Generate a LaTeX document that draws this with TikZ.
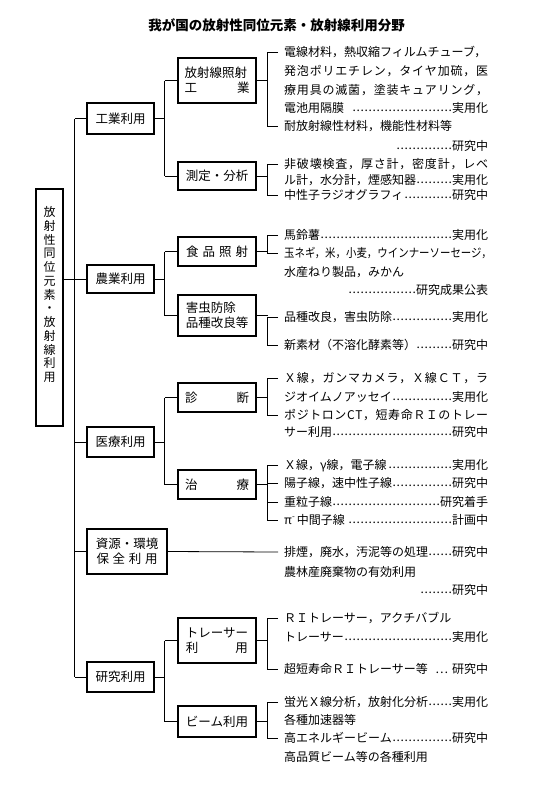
\documentclass[tikz,border=0pt]{standalone}
\usepackage{fontspec}
\usepackage{graphicx}
\setmainfont{Noto Sans CJK JP}
\newcommand\ldr{\leaders\hbox to 4pt{\hss\raisebox{1pt}{.}\hss}\hfill}
\newcommand\fullln[1]{\hbox to 204pt{#1}}
\def\jsp#1{#1\futurelet\jnext\jspB}
\def\jspB{\ifx\jnext\relax\expandafter\jgobble\else\hfil\expandafter\jsp\fi}
\def\jgobble#1{}
\newcommand\spread[1]{\hbox to 204pt{\jsp#1\relax}}
\tikzset{
 bx/.style={draw, line width=1.4pt, inner sep=0pt, font=\fontsize{12.5}{15}\selectfont},
 itm/.style={anchor=west, inner xsep=6pt, inner ysep=0pt, text height=10.5pt, text depth=1.5pt, font=\fontsize{12}{14}\selectfont},
 ln/.style={line width=0.8pt},
}
\begin{document}
\begin{tikzpicture}[x=1pt,y=-1pt]
\useasboundingbox (0,0) rectangle (549,788);
\node[font=\bfseries\fontsize{13.5}{16}\selectfont] (title) at (276.5,25) {我が国の放射性同位元素・放射線利用分野};
% root
\node[draw, line width=1.4pt, minimum width=27pt, minimum height=237pt, inner sep=0pt] (root) at (49.5,307.5) {};
\node[font=\fontsize{12}{13.75}\selectfont, align=center, inner sep=0pt] (roottxt) at (49.5,294.5) {放\\射\\性\\同\\位\\元\\素\\・\\放\\射\\線\\利\\用};
% level 1
\node[bx, minimum width=67pt, minimum height=31pt] (ind) at (120.5,118.5) {工業利用};
\node[bx, minimum width=67pt, minimum height=28pt] (agr) at (120.5,279) {農業利用};
\node[bx, minimum width=67pt, minimum height=30pt] (med) at (120.5,442) {医療利用};
\node[bx, minimum width=80pt, minimum height=45pt, align=center] (env) at (127,551.5) {資源・環境\\\makebox[61pt][s]{保\hfill 全\hfill 利\hfill 用}};
\node[bx, minimum width=67pt, minimum height=30pt] (res) at (120.5,677) {研究利用};
% level 2
\node[bx, minimum width=78pt, minimum height=45pt, align=left] (rad) at (217,80.5) {放射線照射\\\makebox[65pt][s]{工\hfill 業}};
\node[bx, minimum width=78pt, minimum height=28pt] (mea) at (217,176) {測定・分析};
\node[bx, minimum width=78pt, minimum height=29pt] (food) at (217,251.5) {\makebox[62pt][s]{食\hfill 品\hfill 照\hfill 射}};
\node[bx, minimum width=78pt, minimum height=41pt, align=left] (pest) at (217,315.5) {害虫防除\\品種改良等};
\node[bx, minimum width=78pt, minimum height=29pt] (diag) at (217,397.5) {\makebox[64pt][s]{診\hfill 断}};
\node[bx, minimum width=78pt, minimum height=29pt] (ther) at (217,484.5) {\makebox[64pt][s]{治\hfill 療}};
\node[bx, minimum width=78pt, minimum height=45pt, align=left] (trc) at (217,640.5) {トレーサー\\\makebox[62pt][s]{利\hfill 用}};
\node[bx, minimum width=78pt, minimum height=31pt] (beam) at (217,721.5) {ビーム利用};
% items
\node[itm] (a1) at (278,52) {電線材料，熱収縮フィルムチューブ，};
\node[itm] (a2) at (278,71) {\spread{発泡ポリエチレン，タイヤ加硫，医}};
\node[itm] (a3) at (278,90) {\spread{療用具の滅菌，塗装キュアリング，}};
\node[itm] (a4) at (278,108) {\fullln{電池用隔膜\hspace{8pt}\ldr 実用化}};
\node[itm] (a5) at (278,126) {耐放射線性材料，機能性材料等};
\node[itm] (a6) at (278,146) {\fullln{\hspace*{111pt}\ldr 研究中}};
\node[itm] (b1) at (278,164) {\spread{非破壊検査，厚さ計，密度計，レベ}};
\node[itm] (b2) at (278,180) {\fullln{ル計，水分計，煙感知器\ldr 実用化}};
\node[itm] (b3) at (278,195) {\fullln{中性子ラジオグラフィ\ldr 研究中}};
\node[itm] (c1) at (278,235) {\fullln{馬鈴薯\ldr 実用化}};
\node[itm] (c2) at (278,253) {\scalebox{0.87}[1]{玉ネギ，米，小麦，ウインナーソーセージ，}};
\node[itm] (c3) at (278,272) {水産ねり製品，みかん};
\node[itm] (c4) at (278,290) {\fullln{\hspace*{64pt}\ldr 研究成果公表}};
\node[itm] (d1) at (278,317) {\fullln{品種改良，害虫防除\ldr 実用化}};
\node[itm] (d2) at (278,345) {\fullln{新素材（不溶化酵素等）\ldr 研究中}};
\node[itm] (e1) at (278,378) {\spread{Ｘ線，ガンマカメラ，Ｘ線ＣＴ，ラ}};
\node[itm] (e2) at (278,397) {\fullln{ジオイムノアッセイ\ldr 実用化}};
\node[itm] (e3) at (278,415) {\spread{ポジトロンCT，短寿命ＲＩのトレー}};
\node[itm] (e4) at (278,432) {\fullln{サー利用\ldr 研究中}};
\node[itm] (f1) at (278,465) {\fullln{Ｘ線，γ線，電子線\ldr 実用化}};
\node[itm] (f2) at (278,483) {\fullln{陽子線，速中性子線\ldr 研究中}};
\node[itm] (f3) at (278,502) {\fullln{重粒子線\ldr 研究着手}};
\node[itm] (f4) at (278,520) {\fullln{π\raisebox{5pt}{\fontsize{8}{8}\selectfont -}\hspace{2pt}中間子線\ldr 計画中}};
\node[itm] (g1) at (278,552) {\fullln{排煙，廃水，汚泥等の処理\ldr 研究中}};
\node[itm] (g2) at (278,572) {農林産廃棄物の有効利用};
\node[itm] (g3) at (278,590) {\fullln{\hspace*{134pt}\ldr 研究中}};
\node[itm] (h1) at (278,618) {ＲＩトレーサー，アクチバブル};
\node[itm] (h2) at (278,637) {\fullln{トレーサー\ldr 実用化}};
\node[itm] (h3) at (278,669) {\fullln{超短寿命ＲＩトレーサー等\hfill …\hspace{4pt}研究中}};
\node[itm] (i1) at (278,702) {\fullln{蛍光Ｘ線分析，放射化分析\ldr 実用化}};
\node[itm] (i2) at (278,720) {各種加速器等};
\node[itm] (i3) at (278,738) {\fullln{高エネルギービーム\ldr 研究中}};
\node[itm] (i4) at (278,757) {高品質ビーム等の各種利用};
% spine coordinates
\coordinate (sp0) at (74.5,0);
\coordinate (sp1) at (164.5,0);
\coordinate (bx) at (267.5,0);
% root connections
\draw[ln] (root.east |- agr.west) -- (agr.west);
\draw[ln] (ind.west -| sp0) -- (res.west -| sp0);
\foreach \n in {ind,med,env,res} \draw[ln] (\n.west) -- (\n.west -| sp0);
% level-1 spines
\draw[ln] (ind.east) -- (ind.east -| sp1);
\draw[ln] (rad.west -| sp1) -- (mea.west -| sp1);
\draw[ln] (rad.west) -- (rad.west -| sp1);
\draw[ln] (mea.west) -- (mea.west -| sp1);
\draw[ln] (agr.east) -- (agr.east -| sp1);
\draw[ln] (food.west -| sp1) -- (pest.west -| sp1);
\draw[ln] (food.west) -- (food.west -| sp1);
\draw[ln] (pest.west) -- (pest.west -| sp1);
\draw[ln] (med.east) -- (med.east -| sp1);
\draw[ln] (diag.west -| sp1) -- (ther.west -| sp1);
\draw[ln] (diag.west) -- (diag.west -| sp1);
\draw[ln] (ther.west) -- (ther.west -| sp1);
\draw[ln] (res.east) -- (res.east -| sp1);
\draw[ln] (trc.west -| sp1) -- (beam.west -| sp1);
\draw[ln] (trc.west) -- (trc.west -| sp1);
\draw[ln] (beam.west) -- (beam.west -| sp1);
% brackets
\draw[ln] (a1.west) -- (a1.west -| bx) -- (a5.west -| bx) -- (a5.west);
\draw[ln] (rad.east) -- (rad.east -| bx);
\draw[ln] (b1.west) -- (b1.west -| bx) -- (b3.west -| bx) -- (b3.west);
\draw[ln] (mea.east) -- (mea.east -| bx);
\draw[ln] (c1.west) -- (c1.west -| bx) -- (c2.west -| bx) -- (c2.west);
\draw[ln] (food.east) -- (food.east -| bx);
\draw[ln] (d1.west) -- (d1.west -| bx) -- (d2.west -| bx) -- (d2.west);
\draw[ln] (pest.east) -- (pest.east -| bx);
\draw[ln] (e1.west) -- (e1.west -| bx) -- (e3.west -| bx) -- (e3.west);
\draw[ln] (diag.east) -- (diag.east -| bx);
\draw[ln] (f1.west) -- (f1.west -| bx) -- (f4.west -| bx) -- (f4.west);
\draw[ln] (f2.west) -- (f2.west -| bx);
\draw[ln] (f3.west) -- (f3.west -| bx);
\draw[ln] (ther.east) -- (ther.east -| bx);
\draw[ln] (env.east) -- (g1.west);
\draw[ln] (h1.west) -- (h1.west -| bx) -- (h3.west -| bx) -- (h3.west);
\draw[ln] (trc.east) -- (trc.east -| bx);
\draw[ln] (i1.west) -- (i1.west -| bx) -- (i3.west -| bx) -- (i3.west);
\draw[ln] (beam.east) -- (beam.east -| bx);
\end{tikzpicture}
\end{document}
